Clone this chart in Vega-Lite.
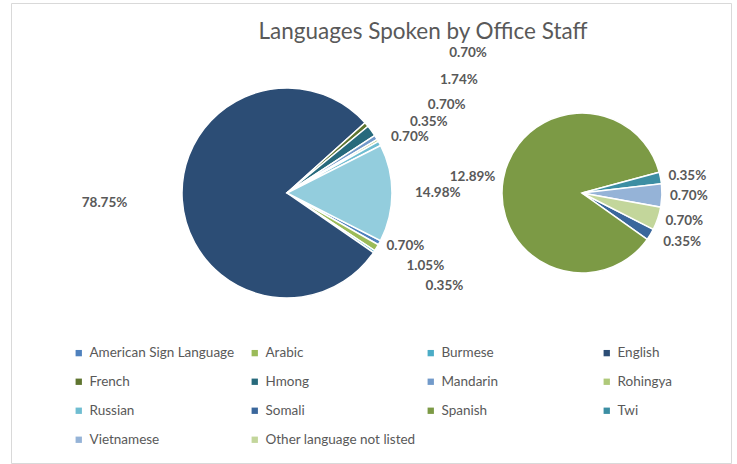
{
  "$schema": "https://vega.github.io/schema/vega-lite/v6.json",
  "width": 720,
  "height": 460,
  "autosize": {"type": "none"},
  "padding": {"left": 11, "top": 3, "right": 6, "bottom": 1},
  "background": "white",
  "view": {"stroke": "#d9d9d9", "strokeWidth": 1},
  "title": {"text": "Languages Spoken by Office Staff", "anchor": "middle", "offset": -40, "dx": 52, "font": "Lato", "fontSize": 22.5, "fontWeight": "normal", "color": "#595959"},
  "config": {"font": "Lato"},
  "data": {
    "values": [
      {"language": "American Sign Language", "pie": "main", "share": 0.0070, "rank": 1},
      {"language": "Arabic", "pie": "main", "share": 0.0105, "rank": 2},
      {"language": "Burmese", "pie": "main", "share": 0.0035, "rank": 3},
      {"language": "English", "pie": "main", "share": 0.7875, "rank": 4},
      {"language": "French", "pie": "main", "share": 0.0070, "rank": 5},
      {"language": "Hmong", "pie": "main", "share": 0.0174, "rank": 6},
      {"language": "Mandarin", "pie": "main", "share": 0.0070, "rank": 7},
      {"language": "Rohingya", "pie": "main", "share": 0.0035, "rank": 8},
      {"language": "Russian", "pie": "main", "share": 0.0070, "rank": 9},
      {"language": "Other", "pie": "main", "share": 0.1498, "rank": 15},
      {"language": "Somali", "pie": "secondary", "share": 0.0035, "rank": 10},
      {"language": "Spanish", "pie": "secondary", "share": 0.1289, "rank": 11},
      {"language": "Twi", "pie": "secondary", "share": 0.0035, "rank": 12},
      {"language": "Vietnamese", "pie": "secondary", "share": 0.0070, "rank": 13},
      {"language": "Other language not listed", "pie": "secondary", "share": 0.0070, "rank": 14}
    ]
  },
  "encoding": {
    "x": {"field": "pie", "type": "nominal", "axis": null, "scale": {"type": "point", "domain": ["main", "secondary"], "range": [276, 571], "padding": 0}},
    "y": {"value": 190},
    "order": {"field": "rank", "type": "quantitative"}
  },
  "layer": [
    {
      "transform": [{"filter": "datum.pie === 'main'"}],
      "encoding": {"theta": {"field": "share", "type": "quantitative", "stack": true, "scale": {"range": [2.042, 8.3252]}}},
      "layer": [
        {
          "mark": {"type": "arc", "outerRadius": 105, "stroke": "white", "strokeWidth": 1.5},
          "encoding": {
            "color": {
              "field": "language", "type": "nominal",
              "scale": {
                "domain": ["American Sign Language", "Arabic", "Burmese", "English", "French", "Hmong", "Mandarin", "Rohingya", "Russian", "Somali", "Spanish", "Twi", "Vietnamese", "Other language not listed", "Other"],
                "range": ["#4F81BD", "#9BBB59", "#4BACC6", "#2C4D75", "#5F7530", "#276A7C", "#729ACA", "#AFC97A", "#6FBDD1", "#3A679C", "#7C9A45", "#3C8EA3", "#95B3D7", "#C3D69B", "#93CDDD"]
              },
              "legend": {
                "values": ["American Sign Language", "Arabic", "Burmese", "English", "French", "Hmong", "Mandarin", "Rohingya", "Russian", "Somali", "Spanish", "Twi", "Vietnamese", "Other language not listed"],
                "title": null, "orient": "none", "legendX": 61, "legendY": 343, "columns": 4, "direction": "horizontal",
                "symbolType": "square", "symbolSize": 40, "symbolStrokeWidth": 0, "labelOffset": 4,
                "labelFont": "Lato", "labelFontSize": 13.5, "labelColor": "#595959", "labelLimit": 250,
                "gridAlign": "all", "columnPadding": 8, "rowPadding": 14
              }
            }
          }
        },
        {
          "mark": {"type": "text", "font": "Lato", "fontWeight": "bold", "fontSize": 13.5, "color": "#595959", "baseline": "middle",
            "radius": {"expr": "datum.rank == 4 ? 160 : datum.rank == 15 ? 128 : datum.rank < 4 ? 113 + 27 * (datum.rank - 1) : 118 + 24 * (9 - datum.rank)"},
            "align": {"expr": "datum.rank == 4 ? 'right' : 'left'"}},
          "encoding": {"text": {"field": "share", "type": "quantitative", "format": ".2%"}}
        }
      ]
    },
    {
      "transform": [{"filter": "datum.pie === 'secondary'"}],
      "encoding": {"theta": {"field": "share", "type": "quantitative", "stack": true, "scale": {"range": [2.042, 8.3252]}}},
      "layer": [
        {
          "mark": {"type": "arc", "outerRadius": 80, "stroke": "white", "strokeWidth": 1.5},
          "encoding": {
            "color": {
              "field": "language", "type": "nominal",
              "scale": {
                "domain": ["American Sign Language", "Arabic", "Burmese", "English", "French", "Hmong", "Mandarin", "Rohingya", "Russian", "Somali", "Spanish", "Twi", "Vietnamese", "Other language not listed", "Other"],
                "range": ["#4F81BD", "#9BBB59", "#4BACC6", "#2C4D75", "#5F7530", "#276A7C", "#729ACA", "#AFC97A", "#6FBDD1", "#3A679C", "#7C9A45", "#3C8EA3", "#95B3D7", "#C3D69B", "#93CDDD"]
              }
            }
          }
        },
        {
          "mark": {"type": "text", "font": "Lato", "fontWeight": "bold", "fontSize": 13.5, "color": "#595959", "baseline": "middle",
            "radius": {"expr": "datum.rank == 10 ? 95 : 88"},
            "align": {"expr": "datum.rank == 11 ? 'right' : 'left'"}},
          "encoding": {"text": {"field": "share", "type": "quantitative", "format": ".2%"}}
        }
      ]
    }
  ],
  "resolve": {"scale": {"theta": "independent"}}
}
